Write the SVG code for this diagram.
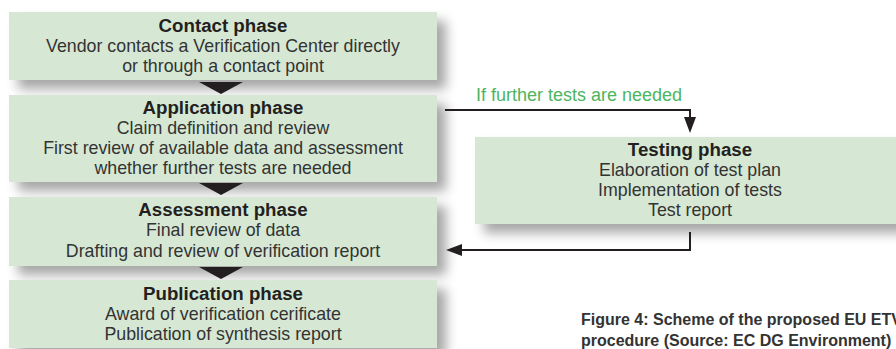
<svg xmlns="http://www.w3.org/2000/svg" width="896" height="349" viewBox="0 0 896 349">
<defs>
<filter id="sh" x="-10%" y="-20%" width="130%" height="160%">
<feDropShadow dx="9" dy="9" stdDeviation="6" flood-color="#000" flood-opacity="0.35"/>
</filter>
<marker id="ah" markerWidth="16" markerHeight="12" refX="8" refY="6" orient="auto" markerUnits="userSpaceOnUse">
<path d="M0,0 L16,6 L0,12 Z" fill="#231f20"/>
</marker>
</defs>
<style>
.box{fill:#d6e8d4;filter:url(#sh);}
.t{font-family:"Liberation Sans",Arial,sans-serif;font-size:17.8px;fill:#333;text-anchor:middle;}
.b{font-weight:bold;font-size:18.7px;fill:#231f20;}
.tri{fill:#231f20;}
.c{fill:none;stroke:#231f20;stroke-width:2;}
.g{font-family:"Liberation Sans",Arial,sans-serif;font-size:18px;fill:#4cb560;}
.cap{font-family:"Liberation Sans",Arial,sans-serif;font-size:16px;font-weight:bold;fill:#333;}
</style>
<rect width="896" height="349" fill="#fff"/>
<g id="contact">
<rect class="box" x="9" y="12" width="428" height="68"/>
<text class="t b" x="223" y="32">Contact phase</text>
<text class="t" x="223" y="52">Vendor contacts a Verification Center directly</text>
<text class="t" x="223" y="72">or through a contact point</text>
</g>
<g id="application">
<rect class="box" x="9" y="95" width="428" height="87"/>
<text class="t b" x="223" y="114">Application phase</text>
<text class="t" x="223" y="134">Claim definition and review</text>
<text class="t" x="223" y="154">First review of available data and assessment</text>
<text class="t" x="223" y="174">whether further tests are needed</text>
</g>
<g id="assessment">
<rect class="box" x="9" y="197" width="428" height="69"/>
<text class="t b" x="223" y="216">Assessment phase</text>
<text class="t" x="223" y="236">Final review of data</text>
<text class="t" x="223" y="257">Drafting and review of verification report</text>
</g>
<g id="publication">
<rect class="box" x="9" y="280" width="428" height="68"/>
<text class="t b" x="223" y="300">Publication phase</text>
<text class="t" x="223" y="320">Award of verification cerificate</text>
<text class="t" x="223" y="340">Publication of synthesis report</text>
</g>
<g id="testing">
<rect class="box" x="475" y="137" width="430" height="87"/>
<text class="t b" x="690" y="156">Testing phase</text>
<text class="t" x="690" y="176">Elaboration of test plan</text>
<text class="t" x="690" y="196">Implementation of tests</text>
<text class="t" x="690" y="216">Test report</text>
</g>
<g id="connectors">
<path class="tri" d="M199,82 L243,82 L221,94 Z"/>
<path class="tri" d="M199,183 L243,183 L221,195 Z"/>
<path class="tri" d="M199,267 L243,267 L221,279 Z"/>
<path class="c" d="M445,110 L690,110 L690,125" marker-end="url(#ah)"/>
<path class="c" d="M690,232 L690,250 L454,250" marker-end="url(#ah)"/>
<text class="g" x="476" y="101">If further tests are needed</text>
</g>
<g id="caption">
<text class="cap" x="581" y="325">Figure 4: Scheme of the proposed EU ETV</text>
<text class="cap" x="581" y="346">procedure (Source: EC DG Environment)</text>
</g>
</svg>
